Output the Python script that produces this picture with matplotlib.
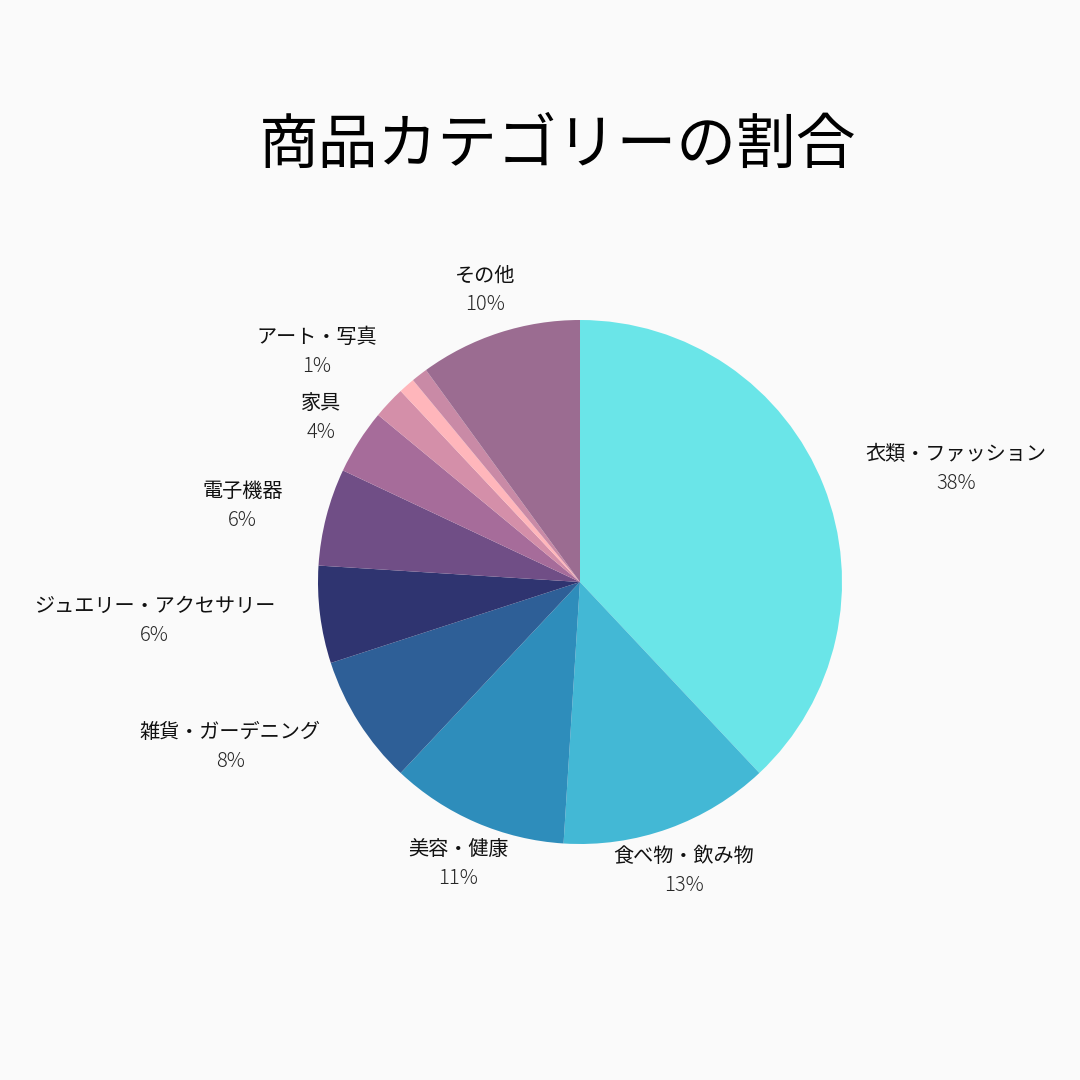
import numpy as np
import matplotlib
matplotlib.use("Agg")
import matplotlib.pyplot as plt

plt.rcParams['font.family'] = ['Noto Sans CJK JP', 'DejaVu Sans']

# データ（ラベルが表示されていない小さな区分は None）
categories = ["衣類・ファッション", "食べ物・飲み物", "美容・健康", "雑貨・ガーデニング",
              "ジュエリー・アクセサリー", "電子機器", "家具", None, "アート・写真", None, "その他"]
shares = [38, 13, 11, 8, 6, 6, 4, 2, 1, 1, 10]
colors = ["#6ae5e8", "#43b8d5", "#2e8dbb", "#2e5f97", "#2f3470", "#704e86",
          "#a66c9a", "#d48fa9", "#ffb6bb", "#c98aa6", "#9b6c91"]

# ラベル配置の上書き（家具だけ中央揃え）
ha_override = {"家具": "center"}

title = "商品カテゴリーの割合"

fig = plt.figure(figsize=(10.8, 10.8), dpi=100, facecolor="#fafafa")
ax = fig.add_axes([0, 0, 1, 1])

cx, cy, r = 580, 498, 262
wedges, _ = ax.pie(shares, colors=colors, startangle=90, counterclock=False,
                   center=(cx, cy), radius=r, frame=True,
                   wedgeprops=dict(linewidth=0))
ax.set_xlim(0, 1080)
ax.set_ylim(0, 1080)
ax.set_aspect("equal")
ax.axis("off")

dist = r * 1.172
for w, name, val in zip(wedges, categories, shares):
    if name is None:
        continue
    ang = np.deg2rad((w.theta1 + w.theta2) / 2)
    dx, dy = np.cos(ang), np.sin(ang)
    x, y = cx + dx * dist, cy + dy * dist
    if dx > 0.5:
        ha = "left"
    elif dx < -0.5:
        ha = "right"
    else:
        ha = "center"
    ha = ha_override.get(name, ha)
    t = ax.text(x, y + 14, name, ha=ha, va="center", fontsize=14.5,
                color="#111111", fontweight="normal")
    if ha == "center":
        mid = x
    else:
        # 2行を中央揃えにする
        fig.canvas.draw()
        bb = t.get_window_extent()
        mid = (bb.x0 + bb.x1) / 2
    ax.text(mid, y - 15, f"{val}%", ha="center", va="center", fontsize=14.5,
            color="#262626", fontweight="light")

fig.text(558 / 1080, 1 - 146 / 1080, title, ha="center", va="center",
         fontsize=43, color="#000000")

fig.savefig("out.png", dpi=100, facecolor=fig.get_facecolor())
